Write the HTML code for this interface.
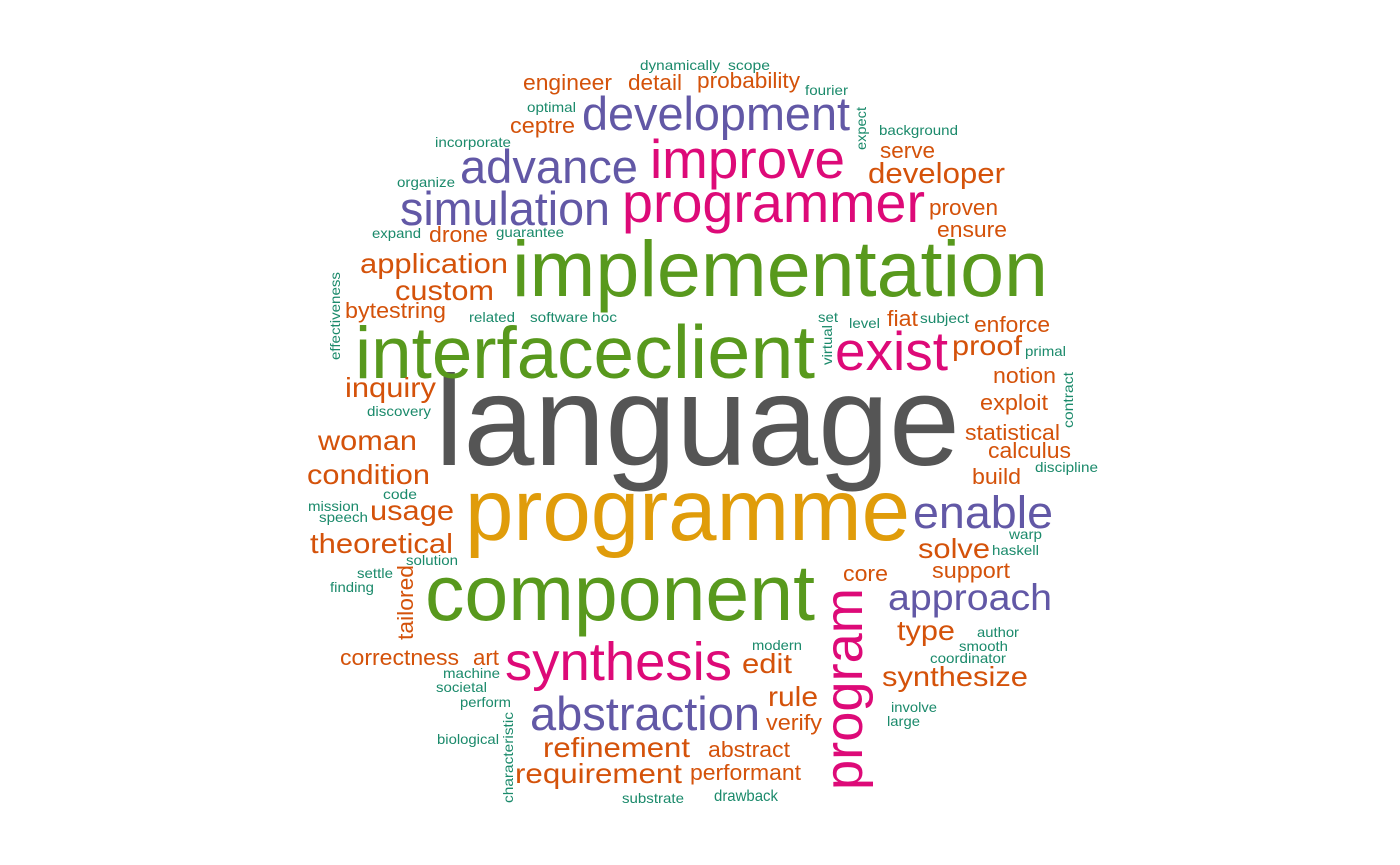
<!DOCTYPE html>
<html><head><meta charset="utf-8"><style>
html,body{margin:0;padding:0;background:#fff;}
svg{display:block;}
text{font-family:"Liberation Sans",Arial,sans-serif;}
</style></head><body>
<svg id="cloud" width="1400" height="865" viewBox="0 0 1400 865" xmlns="http://www.w3.org/2000/svg"></svg>
<script>
const words = ["language","programme","implementation","interface","client","component","synthesis","abstraction","program","exist","programmer","improve","development","advance","simulation","enable","approach",
"developer","theoretical","condition","woman","inquiry","application","custom","bytestring","usage","solve","proof","type","synthesize","edit","rule","refinement","requirement","verify","abstract","performant","correctness","art","tailored","engineer","detail","probability","ceptre","drone","serve","proven","ensure","fiat","enforce","notion","exploit","statistical","calculus","build","core","support",
"dynamically","scope","fourier","optimal","incorporate","expect","background","organize","expand","guarantee","effectiveness","related","software","hoc","set","virtual","level","subject","primal","contract","discovery","discipline","code","mission","speech","warp","haskell","solution","settle","finding","author","modern","smooth","coordinator","machine","societal","perform","involve","large","biological","characteristic","substrate","drawback"];
const sizes = [128,87,79,73,75,79,54,47,54,55,56,55,47,47,47,45,37,
29,28,28,28,28,28,28,22,28,28,28,28,28,28,28,28,28,22,22,22,22,22,22,22,22,22,22,22,22,22,22,22,22,22,22,22,22,22,22,22,
14,14,14,14,14,14,14,14,14,14,14,14,14,14,14,14,14,14,14,14,14,14,14,14,14,14,14,14,14,14,14,14,14,14,14,14,14,14,14,14,14,14];
const colorGroups = [0,1,2,2,2,2,3,4,3,3,3,3,4,4,4,4,4];
const palette = ["#555555","#e09c0a","#58991d","#dd0a78","#6258a6","#d4520a","#1b8a6b"];
// layout: [left-or-baseline-x, baseline-or-bottom-y, length, rotated]
const layout = [[435,465,525,0],[465,540,445,0],[512,296,536,0],[355,378,279,0],[634,378,181,0],[425,620,390,0],[505,680,227,0],[530,730,230,0],[862,790,202,1],[835,370,113,0],[622,222,303,0],[650,178,195,0],[582,130,268,0],[460,183,178,0],[400,225,210,0],[913,528,140,0],[888,610,164,0],
[868,183,137,0],[310,553,143,0],[307,484,123,0],[318,450,99,0],[345,397,91,0],[360,273,148,0],[395,300,99,0],[345,318,101,0],[370,520,84,0],[918,558,72,0],[952,355,70,0],[897,640,58,0],[882,686,146,0],[742,673,50,0],[768,706,50,0],[543,757,147,0],[515,783,167,0],[766,730,56,0],[708,757,82,0],[690,780,111,0],[340,665,119,0],[473,665,26,0],[413,640,75,1],[523,90,89,0],[628,90,54,0],[697,88,103,0],[510,133,65,0],[429,242,59,0],[880,158,55,0],[929,215,69,0],[937,237,70,0],[887,326,31,0],[974,332,76,0],[993,383,63,0],[980,410,68,0],[965,440,95,0],[988,458,83,0],[972,484,49,0],[843,581,45,0],[932,578,78,0],
[640,70,80,0],[728,70,42,0],[805,95,43,0],[527,112,49,0],[435,147,76,0],[866,150,43,1],[879,135,79,0],[397,187,58,0],[372,238,49,0],[496,237,68,0],[340,360,88,1],[469,322,46,0],[530,322,58,0],[592,322,25,0],[818,322,20,0],[832,365,40,1],[849,328,31,0],[920,323,49,0],[1025,356,41,0],[1073,428,56,1],[367,416,64,0],[1035,472,63,0],[383,499,34,0],[308,511,51,0],[319,522,49,0],[1009,539,33,0],[992,555,47,0],[406,565,52,0],[357,578,36,0],[330,592,44,0],[977,637,42,0],[752,650,50,0],[959,651,49,0],[930,663,76,0],[443,678,57,0],[436,692,51,0],[460,707,51,0],[891,712,46,0],[887,726,33,0],[437,744,62,0],[513,803,91,1],[622,803,62,0],[714,801,64,0]];

const svg = document.getElementById('cloud');
const NS = "http://www.w3.org/2000/svg";
words.forEach((w,i)=>{
  const L = layout[i];
  const t = document.createElementNS(NS,'text');
  
  
  const s = sizes[i];
  const c = i < colorGroups.length ? palette[colorGroups[i]] : (s >= 20 ? palette[5] : palette[6]);
  t.setAttribute('font-size', s);
  t.setAttribute('fill', c);
  t.setAttribute('textLength', L[2]);
  t.setAttribute('lengthAdjust', 'spacingAndGlyphs');
  if (L[3]) {
    t.setAttribute('transform', 'translate(' + L[0] + ',' + L[1] + ') rotate(-90)');
    t.setAttribute('x', 0); t.setAttribute('y', 0);
  } else {
    t.setAttribute('x', L[0]); t.setAttribute('y', L[1]);
  }
  t.textContent = w;
  svg.appendChild(t);
});
</script>
</body></html>
